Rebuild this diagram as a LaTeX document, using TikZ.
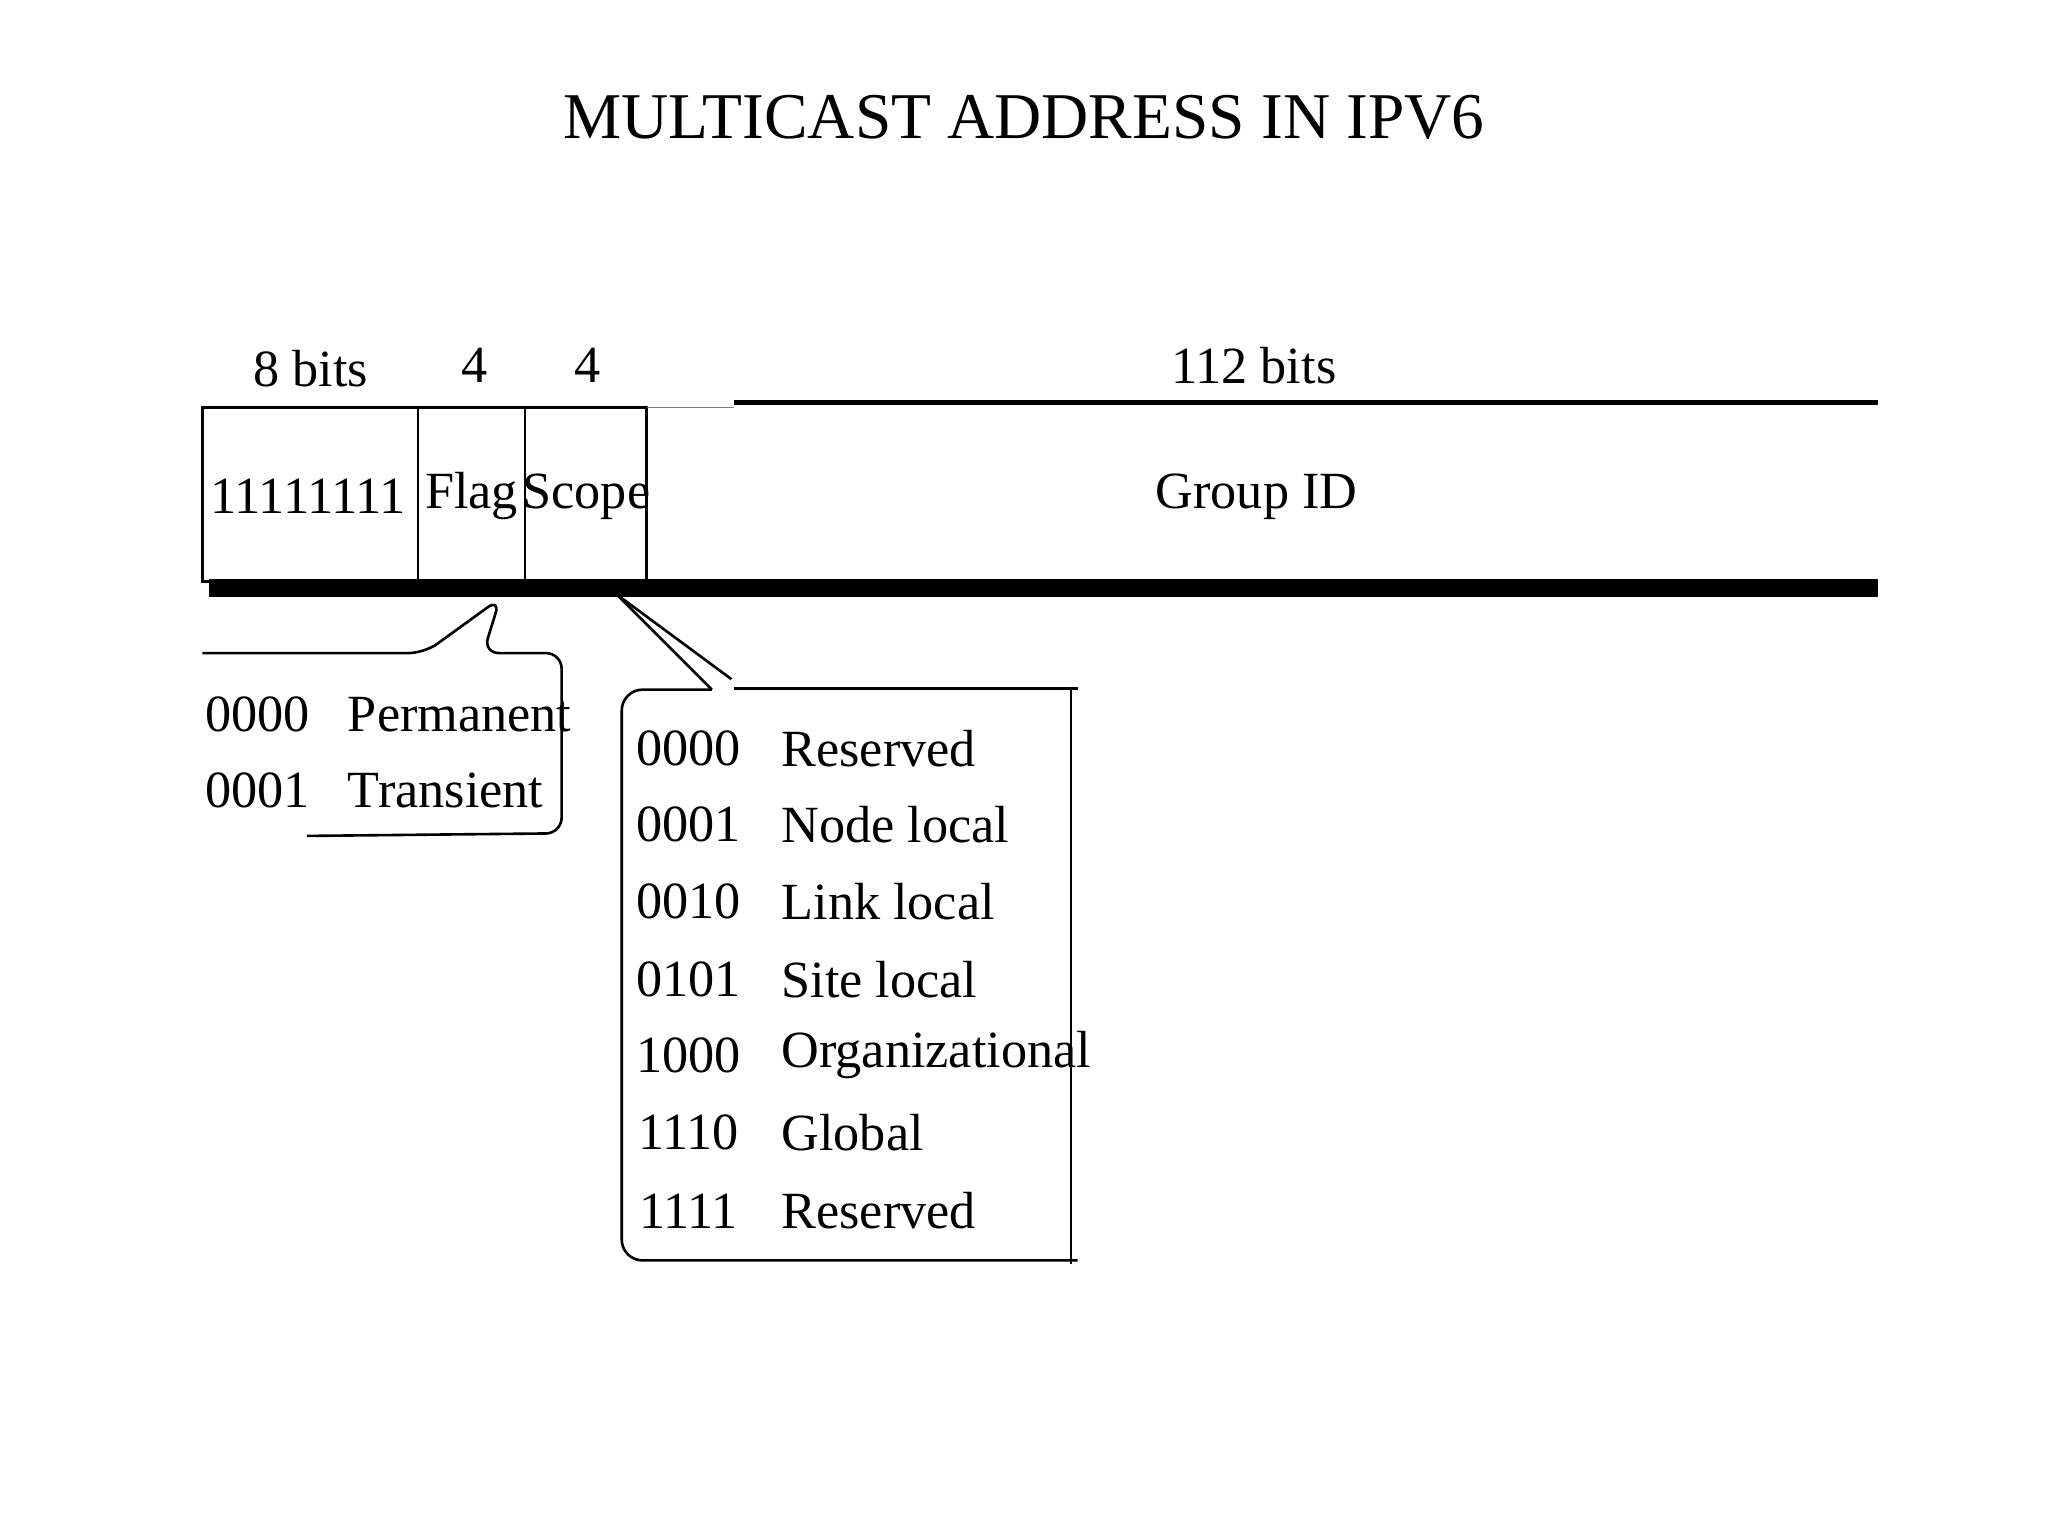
\documentclass[tikz,border=0pt]{standalone}
\usepackage{fontspec}
\setmainfont{Liberation Serif}
\begin{document}
\begin{tikzpicture}[x=0.5pt,y=-0.5pt,
  lbl/.style={font=\fontsize{20}{22}\selectfont,inner sep=0pt},
  cd/.style={font=\fontsize{20}{22}\selectfont,inner sep=0pt},
  nm/.style={font=\fontsize{20}{22}\selectfont,inner sep=0pt,anchor=west},
  ln/.style={line width=1pt}]
\useasboundingbox (0,0) rectangle (1568,1176);
\node[font=\fontsize{25}{28}\selectfont] (title) at (784,90) {MULTICAST ADDRESS IN IPV6};
\node[lbl] (h1) at (238,282) {8 bits};
\node[lbl] (h2) at (363,280) {4};
\node[lbl] (h3) at (450,280) {4};
\node[lbl] (h4) at (960,280) {112 bits};
% box
\draw[ln] (155,312) rectangle (495,445);
\draw[ln] (320,312) -- (320,445);
\draw[ln] (402,312) -- (402,445);
\draw[line width=2pt] (562,308) -- (1438,308);
\draw[line width=0.6pt,gray] (495,312) -- (562,312);
\draw[line width=7pt] (160,450) -- (1438,450);
\node[lbl] (f1) at (236,380) {11111111};
\node[lbl] (f2) at (361,380) {Flag};
\node[lbl] (f3) at (449,380) {Scope};
\node[lbl] (f4) at (962,380) {Group ID};
% flag callout
\coordinate (fa) at (383,458);
\draw[ln,rounded corners=6pt] (155,500) -- (325,500) -- (fa) -- (370,500) -- (430,500) -- (430,638) -- (235,640);
\node[cd] at (197,547) {0000};
\node[nm] at (266,547) {Permanent};
\node[cd] at (197,605) {0001};
\node[nm] at (266,605) {Transient};
% scope callout
\coordinate (sa) at (472,455);
\draw[ln] (sa) -- (545,528);
\draw[ln] (sa) -- (560,520);
\draw[ln] (562,527) -- (825,527);
\draw[ln] (820,527) -- (820,968);
\draw[ln,rounded corners=8pt] (545,528) -- (476,528) -- (476,965) -- (825,965);
\foreach \y/\c/\t in {573/0000/Reserved,631/0001/Node local,690/0010/Link local,750/0101/Site local,808/1000/Organizational,867/1110/Global,927/1111/Reserved}{
  \node[cd] at (527,\y) {\c};
  \node[nm] at (598,\y) {\t};
}
\end{tikzpicture}
\end{document}
